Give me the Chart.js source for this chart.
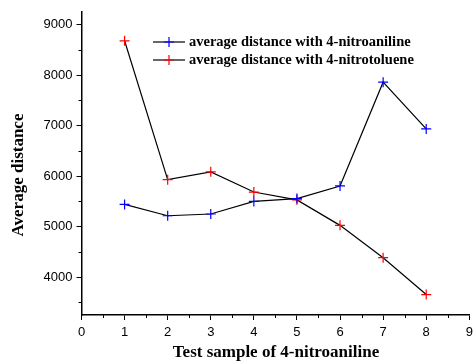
<!DOCTYPE html>
<html><head><meta charset="utf-8">
<script src="https://cdn.jsdelivr.net/npm/chart.js@4"></script>
<style>html,body{margin:0;padding:0;background:#fff}</style>
</head><body>
<canvas id="c" width="473" height="364" style="width:473px;height:364px;display:block"></canvas>
<script>
const samples = [1, 2, 3, 4, 5, 6, 7, 8];
const nitroaniline = [5440, 5215, 5250, 5500, 5555, 5805, 7860, 6935];
const nitrotoluene = [8680, 5930, 6085, 5685, 5530, 5025, 4385, 3655];
const seriesLabels = ['average distance with 4-nitroaniline', 'average distance with 4-nitrotoluene'];
const seriesColors = ['#0000ff', '#ff0000'];
const xTitle = 'Test sample of 4-nitroaniline';
const yTitle = 'Average distance';

const toPts = (ys) => samples.map((x, i) => ({x: x, y: ys[i]}));
const isMajorX = (v) => Number.isInteger(v);
const isMajorY = (v) => v % 1000 === 0;

const decor = {
  id: 'decor',
  afterDraw(chart) {
    const ctx = chart.ctx;
    const xs = chart.scales.x, ys = chart.scales.y;
    ctx.save();
    ctx.strokeStyle = '#000';
    ctx.lineWidth = 1;
    ctx.beginPath();
    xs.ticks.forEach(t => {
      if (!isMajorX(t.value)) {
        const px = Math.round(xs.getPixelForValue(t.value)) + 0.5;
        ctx.moveTo(px, xs.top); ctx.lineTo(px, xs.top + 3);
      }
    });
    ys.ticks.forEach(t => {
      if (!isMajorY(t.value)) {
        const py = Math.round(ys.getPixelForValue(t.value)) + 0.5;
        ctx.moveTo(ys.right, py); ctx.lineTo(ys.right - 3, py);
      }
    });
    ctx.stroke();
    chart.data.datasets.forEach((ds, i) => {
      const y = 42 + i * 18;
      ctx.strokeStyle = '#000';
      ctx.lineWidth = 1.2;
      ctx.beginPath(); ctx.moveTo(153, y); ctx.lineTo(185, y); ctx.stroke();
      ctx.strokeStyle = ds.pointBorderColor;
      ctx.lineWidth = 1.2;
      ctx.beginPath();
      ctx.moveTo(164, y); ctx.lineTo(174, y);
      ctx.moveTo(169, y - 5); ctx.lineTo(169, y + 5);
      ctx.stroke();
      ctx.fillStyle = '#000';
      ctx.font = 'bold 14.5px "Liberation Serif"';
      ctx.textBaseline = 'middle';
      ctx.textAlign = 'left';
      ctx.fillText(ds.label, 189, y);
    });
    ctx.font = 'bold 17px "Liberation Serif"';
    ctx.textAlign = 'center';
    ctx.textBaseline = 'middle';
    ctx.fillText(xTitle, 276, 353);
    ctx.translate(19, 175);
    ctx.rotate(-Math.PI / 2);
    ctx.fillText(yTitle, 0, 0);
    ctx.restore();
  }
};

new Chart(document.getElementById('c'), {
  type: 'line',
  data: {
    datasets: [
      {label: seriesLabels[0], data: toPts(nitroaniline), borderColor: '#000', borderWidth: 1.2,
       pointStyle: 'cross', pointRadius: 5, pointBorderColor: seriesColors[0], pointBorderWidth: 1.2,
       pointBackgroundColor: seriesColors[0], tension: 0, fill: false},
      {label: seriesLabels[1], data: toPts(nitrotoluene), borderColor: '#000', borderWidth: 1.2,
       pointStyle: 'cross', pointRadius: 5, pointBorderColor: seriesColors[1], pointBorderWidth: 1.2,
       pointBackgroundColor: seriesColors[1], tension: 0, fill: false}
    ]
  },
  options: {
    responsive: false,
    animation: false,
    devicePixelRatio: 1,
    layout: {autoPadding: false, padding: {top: 12, right: 3.7, left: 0, bottom: 0}},
    plugins: {legend: {display: false}, tooltip: {enabled: false}},
    scales: {
      x: {
        type: 'linear', min: 0, max: 9,
        grid: {display: true, drawOnChartArea: false, drawTicks: true, tickLength: 5, color: '#000', lineWidth: 1,
               tickColor: (c) => (c.tick && isMajorX(c.tick.value)) ? '#000' : 'rgba(0,0,0,0)'},
        border: {display: true, color: '#000', width: 1.5},
        ticks: {stepSize: 0.5, autoSkip: false, maxRotation: 0, padding: 5, color: '#000',
                font: {family: '"Liberation Sans"', size: 13},
                callback: (v) => isMajorX(v) ? String(v) : ''},
        afterFit(s) { s.height = 49; s.paddingLeft = 0; s.paddingRight = 0; }
      },
      y: {
        type: 'linear', min: 3250, max: 9250,
        grid: {display: true, drawOnChartArea: false, drawTicks: true, tickLength: 5, color: '#000', lineWidth: 1,
               tickColor: (c) => (c.tick && isMajorY(c.tick.value)) ? '#000' : 'rgba(0,0,0,0)'},
        border: {display: true, color: '#000', width: 1.5},
        ticks: {stepSize: 500, autoSkip: false, padding: 4, color: '#000',
                font: {family: '"Liberation Sans"', size: 13},
                callback: (v) => isMajorY(v) ? String(v) : ''},
        afterBuildTicks(s) {
          const t = [];
          for (let v = Math.ceil(s.min / 500) * 500; v <= s.max; v += 500) t.push({value: v});
          s.ticks = t;
        },
        afterFit(s) { s.width = 81.5; s.paddingTop = 0; s.paddingBottom = 0; }
      }
    }
  },
  plugins: [decor]
});
</script>
</body></html>
